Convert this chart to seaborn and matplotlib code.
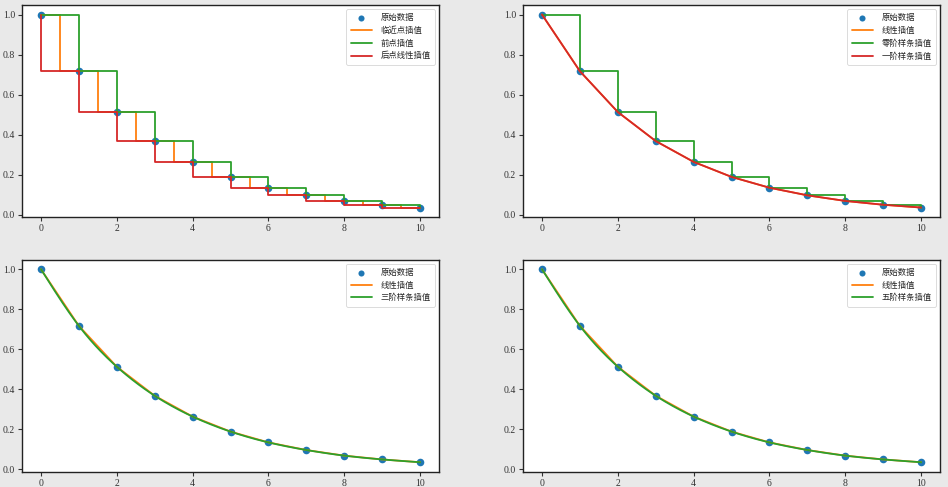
import numpy as np
import matplotlib
matplotlib.use("Agg")
import matplotlib.pyplot as plt
import seaborn as sns

# ── data ──────────────────────────────────────────────────────
x_pts = [0, 1, 2, 3, 4, 5, 6, 7, 8, 9, 10]
y_pts = [1.0, 0.717, 0.513, 0.368, 0.264, 0.189, 0.135, 0.097, 0.069, 0.050, 0.036]

labels_tl = ["原始数据", "临近点插值", "前点插值", "后点线性插值"]
labels_tr = ["原始数据", "线性插值", "零阶样条插值", "一阶样条插值"]
labels_bl = ["原始数据", "线性插值", "三阶样条插值"]
labels_br = ["原始数据", "线性插值", "五阶样条插值"]

x_ticks = [0, 2, 4, 6, 8, 10]
y_ticks = [0.0, 0.2, 0.4, 0.6, 0.8, 1.0]

sns.set_theme(style="ticks")
plt.rcParams["font.family"] = ["Liberation Serif", "Noto Sans CJK SC", "DejaVu Sans"]

BLUE, ORANGE, GREEN, RED = sns.color_palette("tab10")[:4]


def natural_spline(x, y, n=300):
    # plain natural cubic spline through the data points
    x = np.asarray(x, float)
    y = np.asarray(y, float)
    h = np.diff(x)
    m = len(x)
    A = np.zeros((m - 2, m - 2))
    r = np.zeros(m - 2)
    for i in range(1, m - 1):
        A[i - 1, i - 1] = 2 * (h[i - 1] + h[i])
        if i > 1:
            A[i - 1, i - 2] = h[i - 1]
        if i < m - 2:
            A[i - 1, i] = h[i]
        r[i - 1] = 6 * ((y[i + 1] - y[i]) / h[i] - (y[i] - y[i - 1]) / h[i - 1])
    M = np.zeros(m)
    M[1:-1] = np.linalg.solve(A, r)
    t = np.linspace(x[0], x[-1], n)
    k = np.clip(np.searchsorted(x, t) - 1, 0, m - 2)
    hk = h[k]
    a = x[k + 1] - t
    b = t - x[k]
    s = (M[k] * a**3 + M[k + 1] * b**3) / (6 * hk) \
        + (y[k] / hk - M[k] * hk / 6) * a + (y[k + 1] / hk - M[k + 1] * hk / 6) * b
    return t, s


fig = plt.figure(figsize=(9.48, 4.87), dpi=100, facecolor="#e9e9e9")
lefts = [0.0232, 0.5517]
bottoms = [0.554, 0.031]
w, h = 0.44, 0.436
axes = [[fig.add_axes([l, b, w, h]) for l in lefts] for b in bottoms]


def base(ax):
    sns.scatterplot(x=x_pts, y=y_pts, ax=ax, color=BLUE, s=30, edgecolor=BLUE,
                    linewidth=0, label="pts", zorder=1)


def finish(ax, labels):
    ax.set_xticks(x_ticks)
    ax.set_yticks(y_ticks)
    ax.tick_params(labelsize=7, length=3, width=0.8, pad=2, colors="#333333")
    for s in ax.spines.values():
        s.set_color("#222222")
        s.set_linewidth(1.0)
    handles, _ = ax.get_legend_handles_labels()
    leg = ax.legend(handles, labels, loc="upper right",
                    prop={"family": ["Noto Sans CJK SC"], "size": 6, "weight": "light"},
                    handlelength=2.6, handletextpad=1.0, borderpad=0.5,
                    labelspacing=0.45, markerscale=0.8)
    leg.get_frame().set_linewidth(0.6)


# top-left: nearest / previous / next
ax = axes[0][0]
base(ax)
sns.lineplot(x=x_pts, y=y_pts, ax=ax, color=ORANGE, drawstyle="steps-mid", label="a", lw=1.3)
sns.lineplot(x=x_pts, y=y_pts, ax=ax, color=GREEN, drawstyle="steps-post", label="b", lw=1.3)
sns.lineplot(x=x_pts, y=y_pts, ax=ax, color=RED, drawstyle="steps-pre", label="c", lw=1.3)
finish(ax, labels_tl)

# top-right: linear / zero-order / first-order spline
ax = axes[0][1]
base(ax)
sns.lineplot(x=x_pts, y=y_pts, ax=ax, color=ORANGE, label="a", lw=1.3)
sns.lineplot(x=x_pts, y=y_pts, ax=ax, color=GREEN, drawstyle="steps-post", label="b", lw=1.3)
sns.lineplot(x=x_pts, y=y_pts, ax=ax, color=RED, label="c", lw=1.3)
finish(ax, labels_tr)

# bottom: linear vs smooth splines
xs, ys = natural_spline(x_pts, y_pts)
for ax, labels in [(axes[1][0], labels_bl), (axes[1][1], labels_br)]:
    base(ax)
    sns.lineplot(x=x_pts, y=y_pts, ax=ax, color=ORANGE, label="a", lw=1.3)
    sns.lineplot(x=xs, y=ys, ax=ax, color=GREEN, label="b", lw=1.3)
    finish(ax, labels)

fig.savefig("out.png", dpi=100, facecolor=fig.get_facecolor())
